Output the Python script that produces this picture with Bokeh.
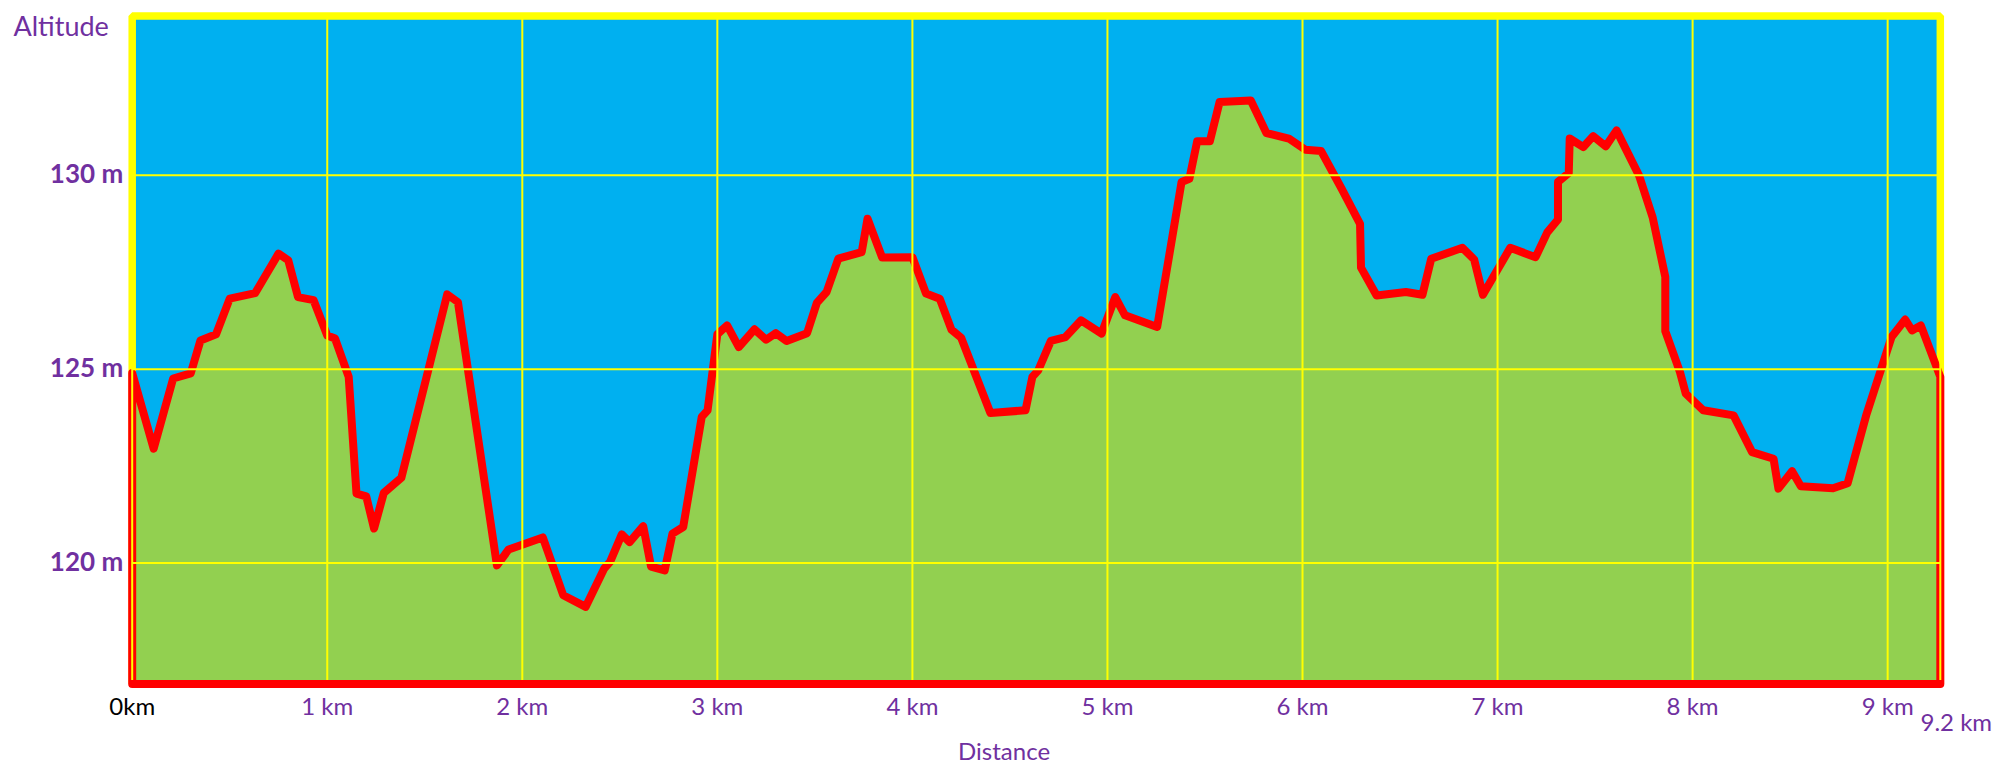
from bokeh.plotting import figure
from bokeh.models import Range1d
from bokeh.core.properties import value
from bokeh.embed import file_html
from bokeh.resources import INLINE

# ---- data ----
distance_km = [0, 0.11, 0.21, 0.30, 0.35, 0.43, 0.50, 0.63, 0.75, 0.80, 0.85, 0.93,
               1.00, 1.04, 1.11, 1.15, 1.20, 1.24, 1.29, 1.38, 1.615, 1.67, 1.87, 1.93,
               2.105, 2.21, 2.325, 2.42, 2.45, 2.51, 2.55, 2.62, 2.66, 2.73, 2.77, 2.825,
               2.92, 2.95, 3.00, 3.05, 3.11, 3.19, 3.25, 3.30, 3.355, 3.46, 3.51, 3.56,
               3.62, 3.74, 3.77, 3.845, 4.00, 4.07, 4.14, 4.20, 4.25, 4.40, 4.58, 4.615,
               4.645, 4.71, 4.785, 4.865, 4.97, 5.04, 5.09, 5.255, 5.38, 5.42, 5.46, 5.525,
               5.575, 5.735, 5.815, 5.93, 6.015, 6.095, 6.20, 6.295, 6.30, 6.38, 6.53, 6.615,
               6.66, 6.82, 6.88, 6.925, 7.065, 7.195, 7.255, 7.31, 7.31, 7.365, 7.37, 7.44,
               7.49, 7.555, 7.61, 7.725, 7.795, 7.86, 7.86, 7.935, 7.965, 8.055, 8.21, 8.305,
               8.415, 8.44, 8.51, 8.555, 8.72, 8.795, 8.89, 9.02, 9.09, 9.125, 9.17, 9.27]
altitude_m = [124.9, 122.95, 124.76, 124.89, 125.74, 125.90, 126.82, 126.96, 127.98, 127.81, 126.86, 126.78,
              125.87, 125.79, 124.80, 121.79, 121.72, 120.89, 121.81, 122.20, 126.93, 126.73, 119.94, 120.35,
              120.66, 119.17, 118.87, 119.86, 120.03, 120.74, 120.54, 120.95, 119.91, 119.81, 120.76, 120.93,
              123.77, 123.94, 125.90, 126.13, 125.57, 126.03, 125.76, 125.93, 125.73, 125.93, 126.71, 126.99,
              127.85, 128.02, 128.88, 127.88, 127.89, 126.95, 126.82, 126.02, 125.81, 123.87, 123.94, 124.80,
              124.97, 125.73, 125.83, 126.26, 125.92, 126.86, 126.39, 126.09, 129.83, 129.91, 130.88, 130.88,
              131.89, 131.93, 131.09, 130.95, 130.66, 130.63, 129.66, 128.75, 127.62, 126.90, 126.99, 126.92,
              127.85, 128.13, 127.83, 126.92, 128.13, 127.89, 128.53, 128.86, 129.83, 130.06, 130.95, 130.73,
              131.01, 130.75, 131.16, 130.00, 128.92, 127.38, 125.98, 124.93, 124.37, 123.94, 123.81, 122.86,
              122.69, 121.92, 122.37, 121.98, 121.93, 122.06, 123.81, 125.83, 126.28, 126.00, 126.13, 124.80]

x_tick_km = [0, 1, 2, 3, 4, 5, 6, 7, 8, 9]
x_tick_labels = ["0km", "1 km", "2 km", "3 km", "4 km", "5 km", "6 km", "7 km", "8 km", "9 km"]
end_km = 9.27
end_label = "9.2 km"
y_tick_m = [120, 125, 130]
y_tick_labels = ["120 m", "125 m", "130 m"]
base_m = 116.88
top_m = 134.11
x_title = "Distance"
y_title = "Altitude"

# ---- styling / layout ----
PURPLE = "#7030A0"
BLUE = "#00B0F0"
GREEN = "#92D050"
RED = "#FF0000"
YELLOW = "#FFFF00"
FONT = value("Lato")

PX_PER_KM = 195.05
PX_PER_M = 38.77
W, H = 2000, 767
ORIGIN_X = 131.7      # canvas px of 0 km
TOP_Y = 15.5          # canvas px of top_m

x0 = -ORIGIN_X / PX_PER_KM
y1 = top_m + TOP_Y / PX_PER_M
x_range = Range1d(x0, x0 + W / PX_PER_KM)
y_range = Range1d(y1 - H / PX_PER_M, y1)

p = figure(width=W, height=H, x_range=x_range, y_range=y_range,
           output_backend="svg", toolbar_location=None,
           min_border_left=0, min_border_right=0,
           min_border_top=0, min_border_bottom=0)
p.background_fill_color = "white"
p.border_fill_color = "white"
p.outline_line_color = None
p.grid.visible = False
p.axis.visible = False

# chart box
p.quad(left=[0], right=[end_km], bottom=[base_m], top=[top_m],
       fill_color=BLUE, line_color=YELLOW, line_width=7.5)

# profile area
px = [distance_km[0]] + distance_km + [distance_km[-1]]
py = [base_m] + altitude_m + [base_m]
p.patch(px, py, fill_color=GREEN, line_color=RED, line_width=8, line_join="round")

# grid lines on top
gx = x_tick_km + [end_km]
g_bottom = base_m + 4 / PX_PER_M
p.segment(x0=gx, y0=[g_bottom] * len(gx), x1=gx, y1=[top_m] * len(gx),
          line_color=YELLOW, line_width=2)
p.segment(x0=[0] * len(y_tick_m), y0=y_tick_m, x1=[end_km] * len(y_tick_m), y1=y_tick_m,
          line_color=YELLOW, line_width=2)

# y tick labels
p.text(x=[0] * len(y_tick_m), y=y_tick_m, text=y_tick_labels, x_offset=-9, y_offset=-2,
       text_align="right", text_baseline="middle", text_font=FONT,
       text_font_style="bold", text_font_size="26px", text_color=PURPLE)

# x tick labels
p.text(x=x_tick_km, y=[base_m] * len(x_tick_km), text=x_tick_labels, y_offset=21,
       text_align="center", text_baseline="alphabetic", text_font=FONT,
       text_font_size="24px",
       text_color=["black"] + [PURPLE] * (len(x_tick_km) - 1))
p.text(x=[end_km], y=[base_m], text=[end_label], x_offset=16, y_offset=37,
       text_align="center", text_baseline="alphabetic", text_font=FONT,
       text_font_size="24px", text_color=PURPLE)

# axis titles
p.text(x=[4.47], y=[base_m], text=[x_title], y_offset=66,
       text_align="center", text_baseline="alphabetic", text_font=FONT,
       text_font_size="24px", text_color=PURPLE)
p.text(x=[0], y=[top_m], text=[y_title], x_offset=-118.7, y_offset=9,
       text_align="left", text_baseline="alphabetic", text_font=FONT,
       text_font_size="27px", text_color=PURPLE)

open("out.html", "w").write(file_html(p, INLINE))
